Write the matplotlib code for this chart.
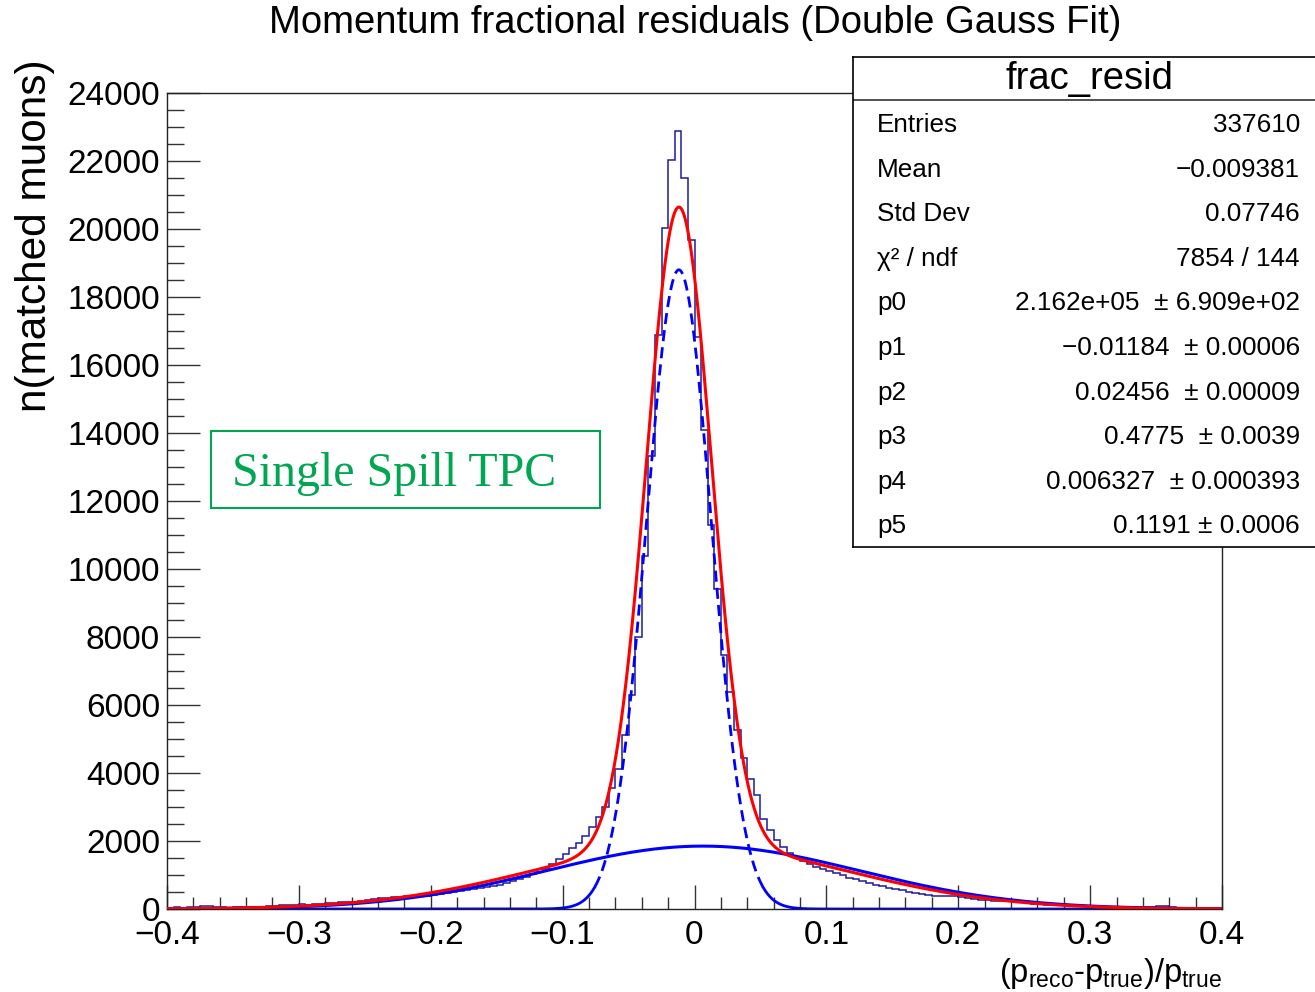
import numpy as np
import matplotlib
matplotlib.use("Agg")
import matplotlib.pyplot as plt
from matplotlib.patches import Rectangle
from matplotlib.ticker import MultipleLocator

plt.rcParams['font.family'] = ['Liberation Sans', 'DejaVu Sans']
plt.rcParams['mathtext.fontset'] = 'custom'
plt.rcParams['mathtext.rm'] = 'Liberation Sans'
plt.rcParams['mathtext.it'] = 'Liberation Sans:italic'

# histogram: 160 bins of width 0.005 from -0.4 to 0.4 (counts)
bin_lo, bin_hi, n_bins = -0.4, 0.4, 160
counts = [
    # -0.400 .. -0.300
    40, 50, 30, 45, 60, 90, 85, 50, 55, 40, 60, 55, 60, 70, 65, 80, 90, 110, 120, 130,
    # -0.300 .. -0.200
    140, 130, 150, 160, 175, 170, 195, 200, 215, 240, 270, 295, 310, 320, 345, 365, 370, 375, 380, 385,
    # -0.200 .. -0.100
    410, 440, 460, 490, 520, 550, 580, 610, 640, 690, 720, 760, 820, 880, 950, 1020, 1100, 1190, 1330, 1460,
    # -0.100 .. 0.000
    1620, 1800, 1950, 2150, 2420, 2700, 3000, 3545, 4130, 5110, 6280, 7990, 10380, 13330, 16880, 20020,
    22030, 22880, 21500, 19680,
    # 0.000 .. 0.100
    16810, 14090, 11280, 9425, 7470, 6395, 5255, 4445, 3830, 3340, 2637, 2315, 2030, 1825, 1660, 1515,
    1415, 1330, 1250, 1180,
    # 0.100 .. 0.200
    1120, 1060, 990, 920, 870, 820, 770, 720, 680, 630, 590, 550, 510, 470, 430, 400, 385, 375, 395, 385,
    # 0.200 .. 0.300
    340, 320, 290, 275, 255, 245, 240, 235, 225, 200, 180, 150, 140, 130, 120, 110, 110, 100, 80, 75,
    # 0.300 .. 0.400
    70, 70, 65, 60, 60, 60, 55, 50, 50, 60, 100, 90, 45, 40, 40, 35, 30, 30, 25, 20,
]

# fit components: peak height, mean, sigma
narrow_fit = [18800, -0.01184, 0.02456]
wide_fit = [1850, 0.006327, 0.1191]
total_wide_mean = -0.004

stats_labels = ['Entries', 'Mean', 'Std Dev', 'χ² / ndf', 'p0', 'p1', 'p2', 'p3', 'p4', 'p5']
stats_values = ['337610', '\u22120.009381', '0.07746', '7854 / 144',
                '2.162e+05  ± 6.909e+02', '\u22120.01184  ± 0.00006', '0.02456  ± 0.00009',
                '0.4775  ± 0.0039', '0.006327  ± 0.000393', '0.1191 ± 0.0006']

W, H = 1315, 992
fig = plt.figure(figsize=(W / 100, H / 100), dpi=100)


def fx(px):
    return px / W


def fy(py):
    return 1 - py / H


ax = fig.add_axes([fx(167), fy(909), fx(1222) - fx(167), fy(93) - fy(909)])

edges = np.linspace(bin_lo, bin_hi, n_bins + 1)
ax.stairs(counts, edges, color='#1c1c9c', lw=1.1, zorder=3)


def gauss(x, p):
    return p[0] * np.exp(-0.5 * ((x - p[1]) / p[2]) ** 2)


x = np.linspace(bin_lo, bin_hi, 2000)
narrow = gauss(x, narrow_fit)
wide = gauss(x, wide_fit)
total = narrow + gauss(x, [wide_fit[0], total_wide_mean, wide_fit[2]])

core = np.abs(x - narrow_fit[1]) < 2.6 * narrow_fit[2]
ax.plot(x, np.where(core, narrow, np.nan), color='#0000ff', lw=2.0, dashes=(4, 2.2), zorder=4)
ax.plot(x, np.where(core, np.nan, narrow), color='#0000ff', lw=2.0, zorder=4)
ax.plot(x, wide, color='#0000ff', lw=2.2, zorder=4)
ax.plot(x, total, color='#ff0000', lw=2.2, zorder=5)

ax.set_xlim(bin_lo, bin_hi)
ax.set_ylim(0, 24000)
ax.xaxis.set_major_locator(MultipleLocator(0.1))
ax.xaxis.set_minor_locator(MultipleLocator(0.02))
ax.yaxis.set_major_locator(MultipleLocator(2000))
ax.yaxis.set_minor_locator(MultipleLocator(500))
ax.tick_params(axis='x', which='major', direction='in', length=17.5, width=1.0, labelsize=24, pad=8,
               top=False, color='#333333')
ax.tick_params(axis='x', which='minor', direction='in', length=8.7, width=1.0, top=False, color='#333333')
ax.tick_params(axis='y', which='major', direction='in', length=23.5, width=1.0, labelsize=24, pad=5,
               right=False, color='#333333')
ax.tick_params(axis='y', which='minor', direction='in', length=12, width=1.0, right=False, color='#333333')
ax.xaxis.set_major_formatter(plt.FuncFormatter(lambda v, p: ('%g' % round(v, 2)).replace('-', '\u2212')))
for s in ax.spines.values():
    s.set_linewidth(1.0)
    s.set_color('#222222')

fig.text(fx(695), fy(23), 'Momentum fractional residuals (Double Gauss Fit)', ha='center', va='center',
         fontsize=27.5)
fig.text(fx(35), fy(236), 'n(matched muons)', rotation=90, ha='center', va='center', fontsize=30.5)
fig.text(fx(1222), fy(991), r'(p$_{\mathrm{reco}}$-p$_{\mathrm{true}}$)/p$_{\mathrm{true}}$',
         ha='right', va='bottom', fontsize=23.5)

# label box
fig.add_artist(Rectangle((fx(211), fy(508)), fx(600) - fx(211), fy(431) - fy(508),
                         transform=fig.transFigure, fill=False, edgecolor='#00a651', lw=1.5))
fig.text(fx(232), fy(474), 'Single Spill TPC', family='Liberation Serif', color='#00a651',
         ha='left', va='center', fontsize=34.5)

# stats box
sax = fig.add_axes([fx(853), fy(547), fx(1316) - fx(853), fy(57) - fy(547)], zorder=10)
sax.set_xticks([])
sax.set_yticks([])
sax.set_xlim(853, 1316)
sax.set_ylim(547, 57)
for s in sax.spines.values():
    s.set_linewidth(1.2)
sax.plot([853, 1316], [100, 100], color='#333333', lw=1.2)
sax.text(1090, 79, 'frac_resid', ha='center', va='center', fontsize=27.5)
row_y = 125
for lab, val in zip(stats_labels, stats_values):
    sax.text(877, row_y, lab, ha='left', va='center', fontsize=18.8)
    sax.text(1300, row_y, val, ha='right', va='center', fontsize=18.8)
    row_y += 44.6

fig.savefig('out.png', dpi=100)
